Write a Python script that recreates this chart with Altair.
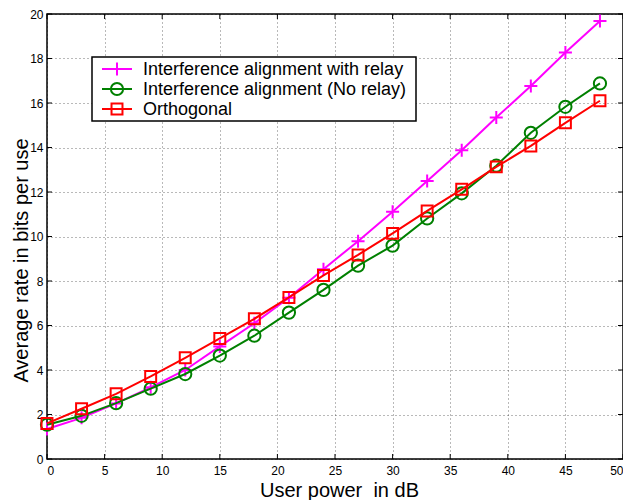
import altair as alt
import pandas as pd

x_vals = [0, 3, 6, 9, 12, 15, 18, 21, 24, 27, 30, 33, 36, 39, 42, 45, 48]
relay = [1.35, 1.85, 2.50, 3.22, 4.00, 5.06, 6.10, 7.25, 8.53, 9.79, 11.11, 12.49, 13.88, 15.35, 16.76, 18.27, 19.69]
norelay = [1.54, 1.94, 2.51, 3.16, 3.82, 4.65, 5.54, 6.58, 7.60, 8.69, 9.59, 10.81, 11.94, 13.18, 14.66, 15.83, 16.88]
orth = [1.60, 2.26, 2.93, 3.71, 4.55, 5.42, 6.30, 7.26, 8.25, 9.17, 10.14, 11.15, 12.12, 13.13, 14.07, 15.11, 16.10]

series_names = ["Interference alignment with relay", "Interference alignment (No relay)", "Orthogonal"]
series_values = [relay, norelay, orth]
series_colors = ["#FF00FF", "#008000", "#FF0000"]
plus_path = "M-1,0H1M0,-1V1"
series_shapes = [plus_path, "circle", "square"]
series_sizes = [170, 150, 120]

x_ticks = [0, 5, 10, 15, 20, 25, 30, 35, 40, 45, 50]
y_ticks = [0, 2, 4, 6, 8, 10, 12, 14, 16, 18, 20]

x_title = "User power \u00a0in dB"
y_title = "Average rate in bits per use"

W, H = 576, 445
FONT = "Liberation Sans"

xs = alt.Scale(domain=[0, 50], nice=False, zero=False)
ys = alt.Scale(domain=[0, 20], nice=False, zero=False)

layers = []

base_df = pd.DataFrame({"x": x_vals, "y": relay})
axes_layer = alt.Chart(base_df).mark_point(opacity=0).encode(
    x=alt.X("x:Q", scale=xs, title=x_title,
            axis=alt.Axis(values=x_ticks, format="d", tickSize=0, labelPadding=6,
                          grid=True, gridDash=[1, 3], gridColor="#000000", gridOpacity=0.55,
                          domain=False, titleX=W / 2 + 4, titleY=37,
                          titleBaseline="alphabetic", titleAlign="center")),
    y=alt.Y("y:Q", scale=ys, title=y_title,
            axis=alt.Axis(values=y_ticks, format="d", tickSize=0, labelPadding=4,
                          grid=True, gridDash=[1, 3], gridColor="#000000", gridOpacity=0.55,
                          domain=False, titleX=-20, titleY=246, titleAngle=270,
                          titleBaseline="alphabetic", titleAlign="center")),
)
layers.append(axes_layer)

# inward ticks on all four sides
xt = pd.DataFrame({"t": x_ticks})
yt = pd.DataFrame({"t": y_ticks})
layers.append(alt.Chart(xt).mark_rule(color="black", strokeWidth=1).encode(
    x=alt.X("t:Q", scale=xs), y=alt.value(H), y2=alt.value(H - 5)))
layers.append(alt.Chart(xt).mark_rule(color="black", strokeWidth=1).encode(
    x=alt.X("t:Q", scale=xs), y=alt.value(0), y2=alt.value(5)))
layers.append(alt.Chart(yt).mark_rule(color="black", strokeWidth=1).encode(
    y=alt.Y("t:Q", scale=ys), x=alt.value(0), x2=alt.value(5)))
layers.append(alt.Chart(yt).mark_rule(color="black", strokeWidth=1).encode(
    y=alt.Y("t:Q", scale=ys), x=alt.value(W), x2=alt.value(W - 5)))

for name, vals, col, shp, sz in zip(series_names, series_values, series_colors, series_shapes, series_sizes):
    df = pd.DataFrame({"x": x_vals, "y": vals})
    layers.append(alt.Chart(df).mark_line(color=col, strokeWidth=2).encode(
        x=alt.X("x:Q", scale=xs), y=alt.Y("y:Q", scale=ys)))
    layers.append(alt.Chart(df).mark_point(color=col, shape=shp, size=sz, filled=False,
                                           strokeWidth=2, opacity=1).encode(
        x=alt.X("x:Q", scale=xs), y=alt.Y("y:Q", scale=ys)))

# legend
box = pd.DataFrame({"a": [0]})
layers.append(alt.Chart(box).mark_rect(fill="white", stroke="black", strokeWidth=1.5).encode(
    x=alt.value(45), x2=alt.value(369), y=alt.value(43), y2=alt.value(107)))
row_y = [55, 75, 95]
for name, col, shp, sz, ry in zip(series_names, series_colors, series_shapes, series_sizes, row_y):
    d = pd.DataFrame({"t": [name]})
    layers.append(alt.Chart(d).mark_rule(color=col, strokeWidth=2).encode(
        x=alt.value(55), x2=alt.value(85), y=alt.value(ry)))
    layers.append(alt.Chart(d).mark_point(color=col, shape=shp, size=sz, filled=False,
                                          strokeWidth=2, opacity=1).encode(
        x=alt.value(70), y=alt.value(ry)))
    layers.append(alt.Chart(d).mark_text(align="left", baseline="middle", fontSize=18,
                                         font=FONT, color="black", dy=1).encode(
        x=alt.value(96), y=alt.value(ry), text="t:N"))

chart = alt.layer(*layers).properties(
    width=W, height=H,
    autosize=alt.AutoSizeParams(type="none"),
    padding={"left": 39, "top": 6, "right": 0, "bottom": 42},
    background="white",
).configure_view(stroke="black", strokeWidth=1.5).configure_axis(
    labelFont=FONT, labelFontSize=12, labelColor="black",
    titleFont=FONT, titleFontSize=20, titleFontWeight="normal", titleColor="black",
)

chart.save("out.html", embed_options={"renderer": "svg", "actions": False})
